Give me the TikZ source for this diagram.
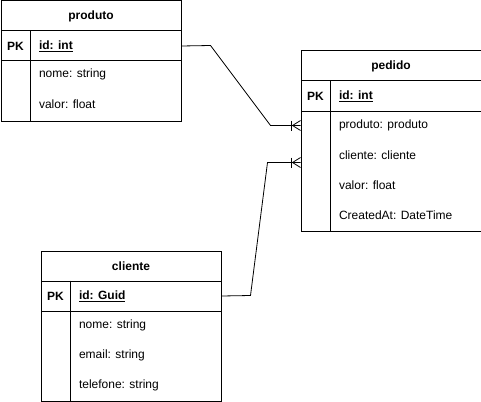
\documentclass[tikz,border=0pt]{standalone}
\usepackage{fontspec}
\setmainfont{Liberation Sans}
\begin{document}
\begin{tikzpicture}[x=1pt,y=-1pt,line width=1pt,
  every node/.style={font=\fontsize{12}{14}\selectfont},
  row/.style={draw,minimum width=180pt,inner sep=0pt,anchor=north west,line width=1pt},
  hdr/.style={row,minimum height=30pt,font=\fontsize{12}{14}\selectfont\bfseries},
  pkrow/.style={row,minimum height=30pt},
  pk/.style={inner sep=0pt,font=\fontsize{12}{14}\selectfont\bfseries},
  fld/.style={inner sep=0pt,anchor=west},
  idf/.style={fld,font=\fontsize{12}{14}\selectfont\bfseries},
  conn/.style={line width=0.8pt}]
\useasboundingbox (0,0) rectangle (481,401);
% produto
\node[hdr] (prodH) at (0.5,0.5) {produto};
\node[pkrow] (prodPK) at (0.5,30.5) {};
\node[row,minimum height=60pt] (prodF) at (0.5,60.5) {};
\draw ([xshift=30pt]prodPK.north west) -- ([xshift=30pt]prodF.south west);
\node[pk] (prodPKt) at ([xshift=15pt]prodPK.west) {PK};
\node[idf] (prodId) at ([xshift=38pt]prodPK.west) {\underline{id: int}};
\node[fld] (prodNome) at (38.5,74) {nome: string};
\node[fld] (prodValor) at (38.5,104) {valor: float};
% pedido
\node[hdr] (pedH) at (300.5,50.5) {pedido};
\node[pkrow] (pedPK) at (300.5,80.5) {};
\node[row,minimum height=120pt] (pedF) at (300.5,110.5) {};
\draw ([xshift=30pt]pedPK.north west) -- ([xshift=30pt]pedF.south west);
\node[pk] (pedPKt) at ([xshift=15pt]pedPK.west) {PK};
\node[idf] (pedId) at ([xshift=38pt]pedPK.west) {\underline{id: int}};
\node[fld] (pedProd) at (338.5,125) {produto: produto};
\node[fld] (pedCli) at (338.5,155) {cliente: cliente};
\node[fld] (pedValor) at (338.5,185) {valor: float};
\node[fld] (pedCreated) at (338.5,215) {CreatedAt: DateTime};
% cliente
\node[hdr] (cliH) at (40.5,250.5) {cliente};
\node[pkrow] (cliPK) at (40.5,280.5) {};
\node[row,minimum height=90pt] (cliF) at (40.5,310.5) {};
\draw ([xshift=30pt]cliPK.north west) -- ([xshift=30pt]cliF.south west);
\node[pk] (cliPKt) at ([xshift=15pt]cliPK.west) {PK};
\node[idf] (cliId) at ([xshift=38pt]cliPK.west) {\underline{id: Guid}};
\node[fld] (cliNome) at (78.5,325) {nome: string};
\node[fld] (cliEmail) at (78.5,355) {email: string};
\node[fld] (cliTel) at (78.5,385) {telefone: string};
% connectors
\coordinate (e1) at (300.5,125.5);
\coordinate (e2) at (300.5,162.5);
\draw[conn] (prodPK.east) -- (210.5,45.5) -- (270.5,125.5) -- (e1);
\draw[conn] (cliPK.east) -- (250.5,295.5) -- (267.5,162.5) -- (e2);
% crow's feet (mandatory many)
\draw[conn] (291.5,120.5) -- (291.5,130.5);
\draw[conn] (e1) ++(0,-5) -- (292.5,125.5) -- ++(8,5);
\draw[conn] (291.5,157.5) -- (291.5,167.5);
\draw[conn] (e2) ++(0,-5) -- (292.5,162.5) -- ++(8,5);
\end{tikzpicture}
\end{document}
